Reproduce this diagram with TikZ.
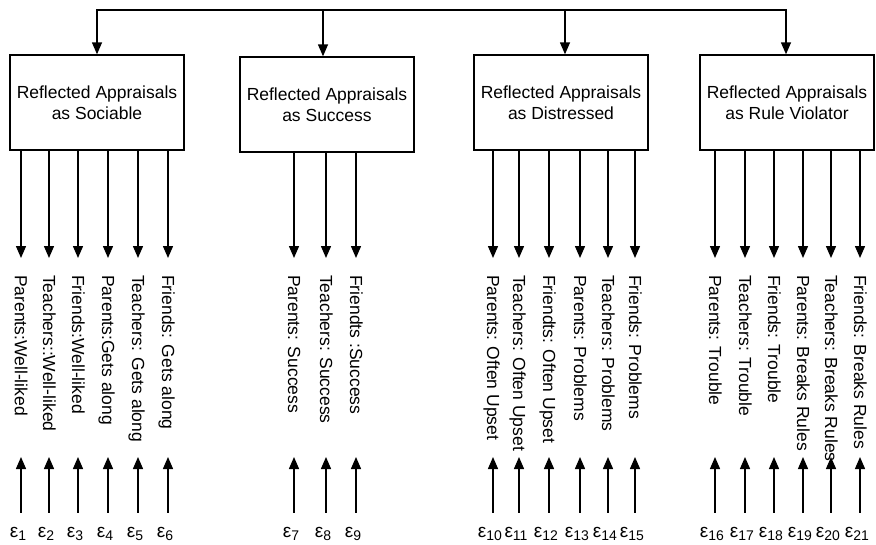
\documentclass[tikz,border=0pt]{standalone}
\usepackage{fontspec}
\setmainfont{Liberation Sans}
\usetikzlibrary{arrows.meta}

\tikzset{
    factor/.style={draw, line width=1.4pt, minimum width=174pt, minimum height=95pt,
        align=center, font=\fontsize{17.5}{21}\selectfont},
    item/.style={rotate=-90, anchor=west, inner xsep=17pt, inner ysep=0pt,
        text height=12pt, text depth=0pt, font=\fontsize{17.5}{20}\selectfont},
    err/.style={anchor=base, inner sep=0pt, text height=24pt, font=\fontsize{19}{20}\selectfont},
    link/.style={line width=1.4pt, -{Triangle[length=12pt,width=10pt]}}
}
\newcommand{\eps}[1]{ε\raisebox{-0.3ex}{\fontsize{14}{14}\selectfont #1}}

\begin{document}
\begin{tikzpicture}[x=1pt, y=-1pt]
    \useasboundingbox (0,0) rectangle (876,544);

    % Factors
    \node[factor] (sociable)   at (97,102.5)  {Reflected Appraisals\\as Sociable};
    \node[factor] (success)    at (327,104.5) {Reflected Appraisals\\as Success};
    \node[factor] (distressed) at (561,102.5) {Reflected Appraisals\\as Distressed};
    \node[factor] (violator)   at (787,102.5) {Reflected Appraisals\\as Rule Violator};

    % Top bar
    \foreach \x/\f in {97/sociable, 323/success, 565/distressed, 786/violator}{
        \coordinate (d\f) at (\x,10);
        \draw[link] (d\f) -- (d\f |- \f.north);
    }
    \draw[line width=1.4pt, line cap=rect] (dsociable) -- (dviolator);

    % Indicators and errors
    \foreach \x/\n/\f/\t in {
        21/1/sociable/Parents:Well-liked,
        49/2/sociable/Teachers::Well-liked,
        78/3/sociable/Friends:Well-liked,
        108/4/sociable/Parents:Gets along,
        138/5/sociable/Teachers: Gets along,
        168/6/sociable/Friends: Gets along,
        294/7/success/Parents: Success,
        326/8/success/Teachers: Success,
        356/9/success/Friendts :Success,
        493/10/distressed/Parents: Often Upset,
        519/11/distressed/Teachers: Often Upset,
        549/12/distressed/Friendts: Often Upset,
        580/13/distressed/Parents: Problems,
        608/14/distressed/Teachers: Problems,
        635/15/distressed/Friends: Problems,
        715/16/violator/Parents: Trouble,
        745/17/violator/Teachers: Trouble,
        774/18/violator/Friends: Trouble,
        803/19/violator/Parents: Breaks Rules,
        831/20/violator/Teachers: Breaks Rules,
        860/21/violator/Friends: Breaks Rules}{
        \node[item] (v\n) at (\x,258) {\t};
        \draw[link] (v\n.west |- \f.south) -- (v\n.west);
        \coordinate (u\n) at (\x,457);
        \node[err] (e\n) at (\x-3,537) {\eps{\n}};
        \draw[link] (e\n.north -| u\n) -- (u\n);
    }
\end{tikzpicture}
\end{document}
